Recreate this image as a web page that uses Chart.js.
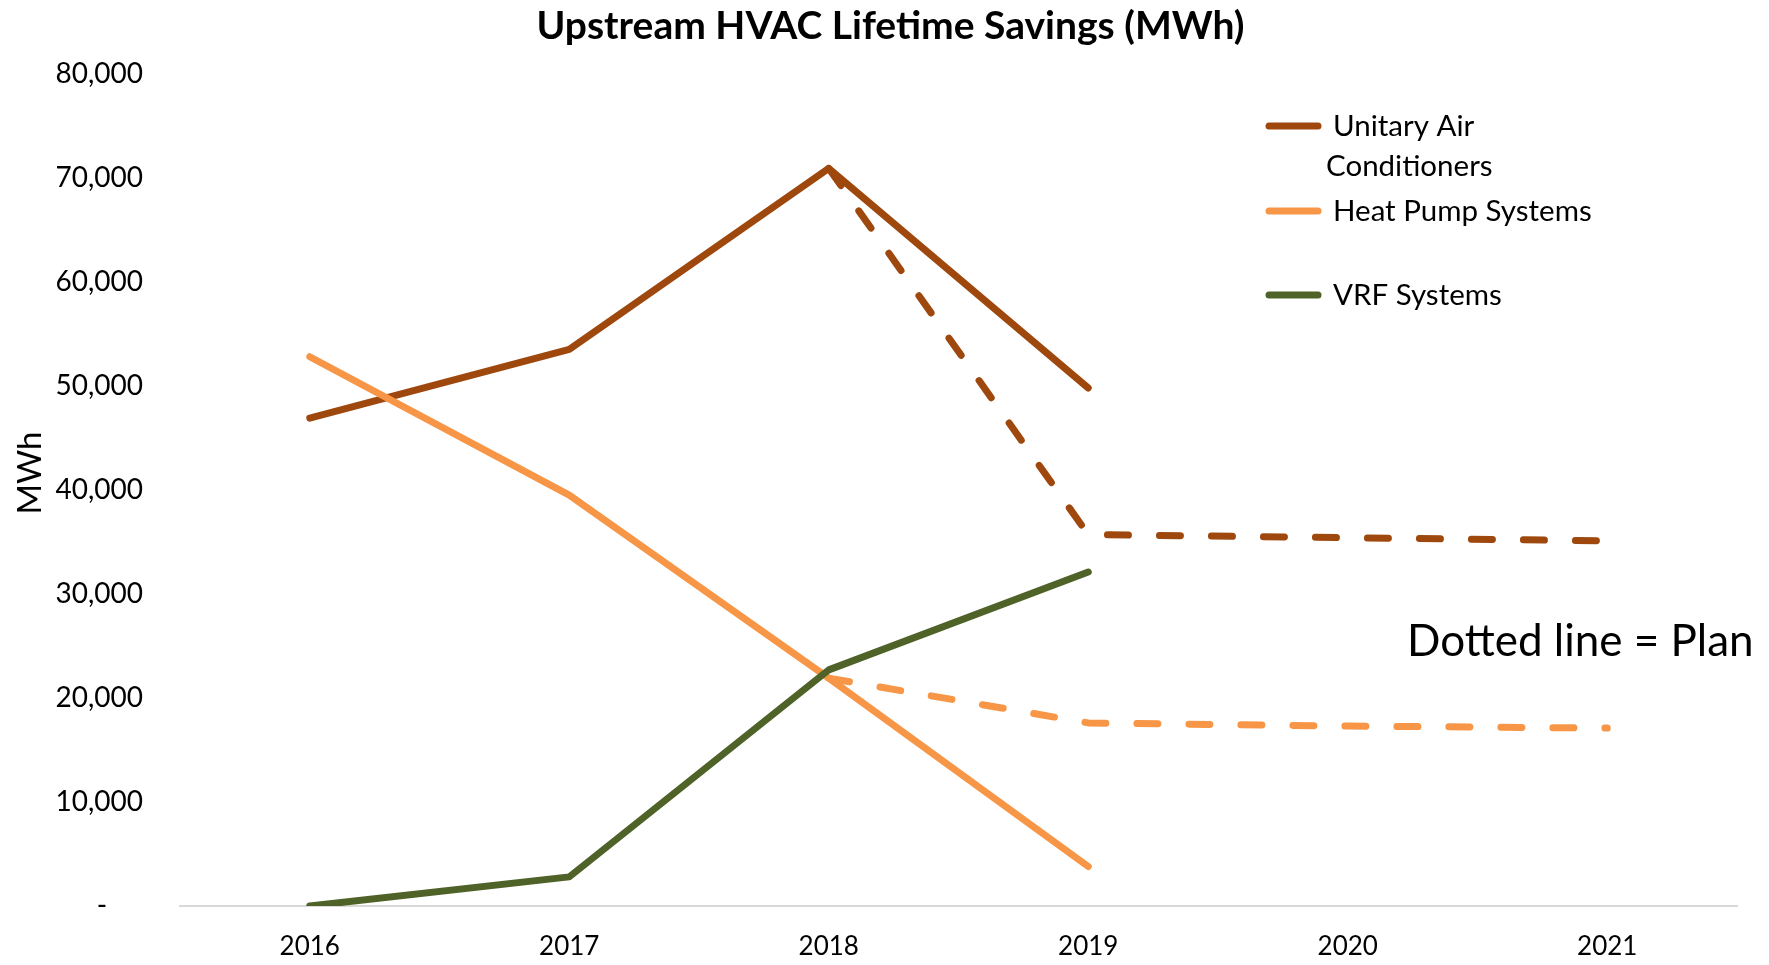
<!DOCTYPE html>
<html>
<head>
<meta charset="utf-8">
<script src="https://cdn.jsdelivr.net/npm/chart.js@4.4.1/dist/chart.umd.min.js"></script>
<style>
  html, body { margin: 0; padding: 0; background: #fff; }
  #wrap { width: 1769px; height: 965px; }
</style>
</head>
<body>
<div id="wrap"><canvas id="hvacChart" width="1769" height="965"></canvas></div>
<script>
// data
const years = ["2016", "2017", "2018", "2019", "2020", "2021"];
const unitaryActual = [46900, 53500, 70900, 49800, null, null];
const unitaryPlan = [null, null, 70900, 35700, 35400, 35100];
const heatPumpActual = [52800, 39500, 21900, 3800, null, null];
const heatPumpPlan = [null, null, 21900, 17600, 17300, 17100];
const vrfActual = [0, 2800, 22700, 32100, null, null];
const yTicks = [0, 10000, 20000, 30000, 40000, 50000, 60000, 70000, 80000];

const BROWN = "#9E480E";
const ORANGE = "#F79646";
const GREEN = "#4F6228";
const FONT = "Lato, 'Open Sans', sans-serif";

function lineSet(label, data, color, dashed) {
  return {
    label: label,
    data: data,
    borderColor: color,
    backgroundColor: color,
    borderWidth: 7,
    borderDash: dashed ? [21, 31] : [],
    borderCapStyle: "round",
    borderJoinStyle: "round",
    pointRadius: 0,
    pointHoverRadius: 0,
    tension: 0,
    fill: false,
    spanGaps: false
  };
}

// legend, axis title and note drawn by hand, like the original
const sideLegend = {
  id: "sideLegend",
  afterDraw(chart) {
    const c = chart.ctx;
    const items = [
      { lines: ["Unitary Air", "Conditioners"], color: BROWN, y: 126 },
      { lines: ["Heat Pump Systems"], color: ORANGE, y: 211 },
      { lines: ["VRF Systems"], color: GREEN, y: 295 }
    ];
    c.save();
    c.font = "29.5px " + FONT;
    c.textBaseline = "middle";
    c.fillStyle = "#000";
    items.forEach(it => {
      c.beginPath();
      c.strokeStyle = it.color;
      c.lineWidth = 7;
      c.lineCap = "round";
      c.moveTo(1269, it.y);
      c.lineTo(1318, it.y);
      c.stroke();
      it.lines.forEach((t, i) => {
        c.fillText(t, i === 0 ? 1333 : 1326, it.y + i * 40);
      });
    });
    c.font = "44px " + FONT;
    c.fillText("Dotted line = Plan", 1407, 642);

    // y axis title
    c.translate(30, 473);
    c.rotate(-Math.PI / 2);
    c.textAlign = "center";
    c.font = "33px " + FONT;
    c.fillText("MWh", 0, 0);
    c.restore();
  }
};

new Chart(document.getElementById("hvacChart"), {
  type: "line",
  data: {
    labels: years,
    datasets: [
      lineSet("VRF Systems", vrfActual, GREEN, false),
      lineSet("Heat Pump Systems", heatPumpActual, ORANGE, false),
      lineSet("Heat Pump Systems Plan", heatPumpPlan, ORANGE, true),
      lineSet("Unitary Air Conditioners", unitaryActual, BROWN, false),
      lineSet("Unitary Air Conditioners Plan", unitaryPlan, BROWN, true)
    ]
  },
  options: {
    responsive: false,
    animation: false,
    layout: { padding: { left: 44, right: 32, top: 0, bottom: 0 } },
    plugins: {
      legend: { display: false },
      tooltip: { enabled: false },
      title: {
        display: true,
        text: "Upstream HVAC Lifetime Savings (MWh)",
        color: "#000",
        font: { family: FONT, size: 39, weight: "bold" },
        padding: { top: 3, bottom: 24 }
      }
    },
    scales: {
      x: {
        offset: true,
        grid: { display: false, drawTicks: false },
        border: { display: true, color: "#D9D9D9", width: 2 },
        ticks: { color: "#000", padding: 25, font: { family: FONT, size: 26 } },
        afterFit(scale) { scale.height = 59; }
      },
      y: {
        min: 0,
        max: 80000,
        grid: { display: false, drawTicks: false },
        border: { display: false },
        afterBuildTicks(scale) { scale.ticks = yTicks.map(v => ({ value: v })); },
        ticks: {
          color: "#000",
          padding: 37,
          font: { family: FONT, size: 28 },
          callback: v => v === 0 ? "-     " : v.toLocaleString("en-US")
        },
        afterFit(scale) { scale.width = 136; }
      }
    }
  },
  plugins: [sideLegend]
});
</script>
</body>
</html>
